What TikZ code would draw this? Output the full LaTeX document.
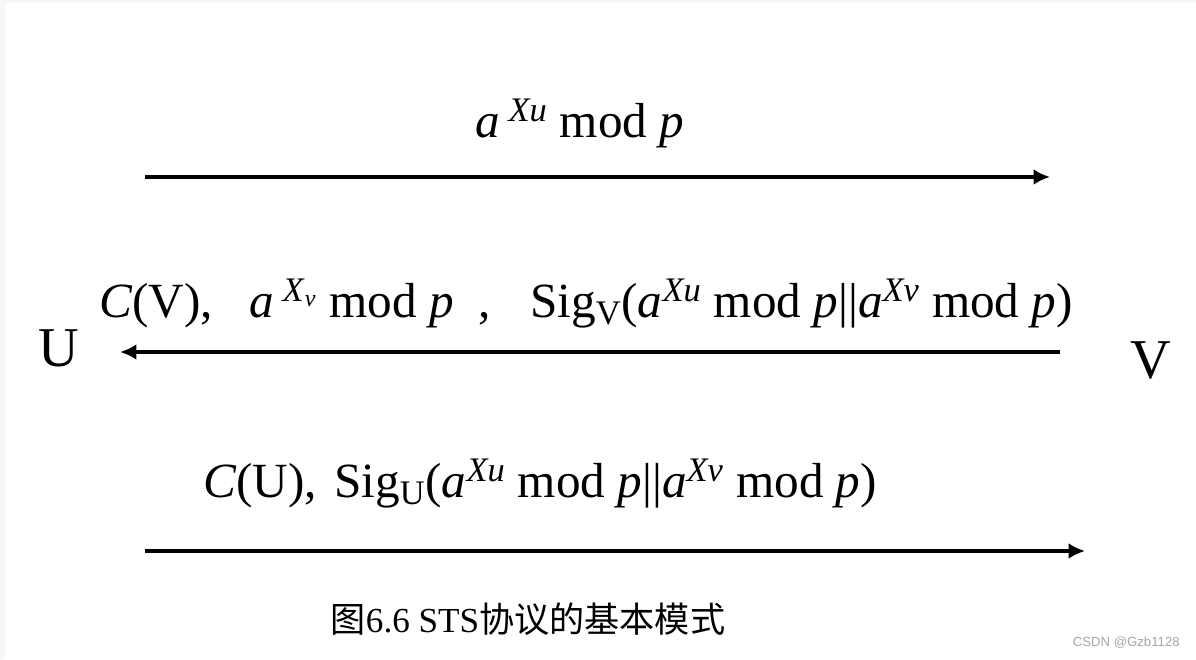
\documentclass[tikz,border=0pt]{standalone}
\usepackage{fontspec}
\setmainfont{Liberation Serif}
\newfontfamily\cjk{Noto Sans CJK SC}
\newfontfamily\marksans{Liberation Sans}
\usetikzlibrary{arrows.meta}

\newcommand{\pw}[1]{\textit{a}\textsuperscript{\textit{#1}}}
\newcommand{\modp}{\ mod \textit{p}}

\begin{document}
\begin{tikzpicture}[x=0.02cm, y=-0.02cm,
    msg/.style={-{Latex[length=3.3mm, width=3.2mm]}, line width=2.1pt},
    lbl/.style={anchor=base, inner sep=0pt, font=\fontsize{28}{33}\selectfont},
    party/.style={anchor=base, inner sep=0pt, font=\fontsize{32}{38}\selectfont}]

  % fond
  \fill[gray!6] (0,0) rectangle (1196,659);
  \fill[white] (5,3) rectangle (1196,659);
  \useasboundingbox (0,0) rectangle (1196,659);

  % U et V
  \node[party] (U) at (59,366) {U};
  \node[party] (V) at (1151,378) {V};

  % extremites des fleches
  \coordinate (m1s) at (145,177);
  \coordinate (m1e) at (1050,177);
  \coordinate (m2s) at (1060,352);
  \coordinate (m2e) at (120,352);
  \coordinate (m3s) at (145,551);
  \coordinate (m3e) at (1085,551);

  % Message 1 : U -> V
  \draw[msg] (m1s) -- (m1e);
  \node[lbl] (t1) at (580,137) {\textit{a}\,\textsuperscript{\textit{Xu}}\modp};

  % Message 2 : V -> U
  \draw[msg] (m2s) -- (m2e);
  \node[lbl] (t2) at (586,317) {\textit{C}(V),\hspace{0.75em}\textit{a}\,\textsuperscript{\textit{X}\textsubscript{\textit{v}}}\modp\hspace{0.5em},\hspace{0.8em}Sig\textsubscript{V}(\pw{Xu}\modp||\pw{Xv}\modp)};

  % Message 3 : U -> V
  \draw[msg] (m3s) -- (m3e);
  \node[lbl] (t3) at (540,497) {\textit{C}(U),\hspace{0.35em}Sig\textsubscript{U}(\pw{Xu}\modp||\pw{Xv}\modp)};

  % legende
  \node[anchor=base, inner sep=0pt, font=\fontsize{20}{24}\selectfont] (cap) at (528,632) {{\cjk 图}6.6 STS{\cjk 协议的基本模式}};
  \node[anchor=base east, inner sep=0pt, text=gray!70, font=\marksans\fontsize{7.5}{9}\selectfont] (wm) at (1180,646) {CSDN @Gzb1128};
\end{tikzpicture}
\end{document}
